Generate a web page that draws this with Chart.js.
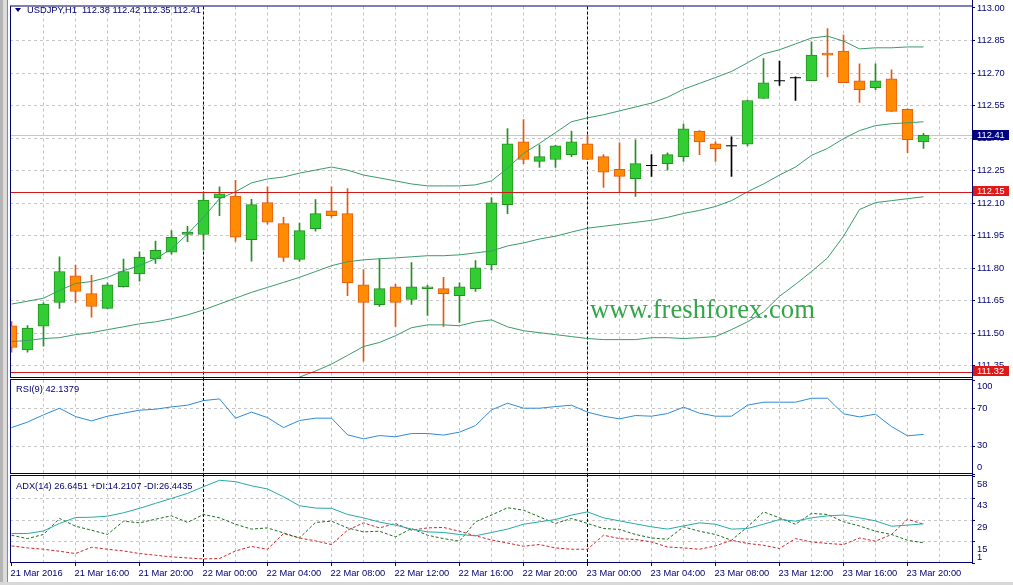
<!DOCTYPE html>
<html><head><meta charset="utf-8">
<script src="https://cdn.jsdelivr.net/npm/chart.js@4.4.1/dist/chart.umd.min.js"></script>
<style>
html,body{margin:0;padding:0;background:#fff;}
#wrap{position:relative;width:1013px;height:585px;overflow:hidden;background:#fff;}
canvas{position:absolute;left:0;top:0;}
.s1{position:absolute;left:0;top:0;width:3px;height:585px;background:#b4b4b4;}
.s2{position:absolute;left:3px;top:0;width:4px;height:585px;background:#dcdcdc;}
.s3{position:absolute;left:7px;top:0;width:1px;height:585px;background:#8a8a8a;}
.sb{position:absolute;left:0;top:582px;width:1013px;height:3px;background:#d8d8d8;}
</style></head><body><div id="wrap">
<div class="s1"></div><div class="s2"></div><div class="s3"></div><div class="sb"></div>
<canvas id="cMain" width="1013" height="585"></canvas>
<canvas id="cRsi" width="1013" height="585"></canvas>
<canvas id="cAdx" width="1013" height="585"></canvas>
</div>
<script>
// ---------------- DATA ----------------
const symbolTitle = 'USDJPY,H1';
const lastOHLC = ['112.38','112.42','112.35','112.41'];
const xTickBars   = [0,4,8,12,16,20,24,28,32,36,40,44,48,52,56];
const xTickLabels = ['21 Mar 2016','21 Mar 16:00','21 Mar 20:00','22 Mar 00:00','22 Mar 04:00','22 Mar 08:00','22 Mar 12:00','22 Mar 16:00','22 Mar 20:00','23 Mar 00:00','23 Mar 04:00','23 Mar 08:00','23 Mar 12:00','23 Mar 16:00','23 Mar 20:00'];
const daySeparatorBars = [12,36];

const open  = [111.532,111.421,111.530,111.640,111.762,111.680,111.612,111.712,111.771,111.840,111.871,111.953,111.953,112.121,112.130,111.929,112.100,112.003,111.838,111.980,112.062,112.049,111.721,111.629,111.712,111.653,111.703,111.703,111.671,111.703,111.812,112.090,112.380,112.290,112.299,112.321,112.371,112.312,112.253,112.210,112.271,112.280,112.312,112.430,112.371,112.362,112.370,112.580,112.662,112.676,112.662,112.790,112.799,112.662,112.630,112.671,112.530,112.380];
const high  = [111.551,111.533,111.638,111.850,111.812,111.764,111.730,111.840,111.873,111.923,111.971,111.991,112.150,112.173,112.203,112.115,112.173,112.032,112.006,112.114,112.173,112.165,111.791,111.840,111.723,111.823,111.718,111.755,111.730,111.832,112.123,112.441,112.483,112.367,112.364,112.430,112.412,112.321,112.376,112.390,112.321,112.330,112.462,112.432,112.380,112.403,112.573,112.764,112.753,112.680,112.842,112.903,112.873,112.740,112.740,112.712,112.532,112.420];
const low   = [111.410,111.410,111.438,111.612,111.640,111.571,111.610,111.710,111.738,111.820,111.862,111.920,111.880,112.040,111.921,111.830,112.001,111.829,111.829,111.968,112.032,111.671,111.368,111.621,111.529,111.630,111.579,111.529,111.547,111.690,111.790,112.049,112.280,112.262,112.262,112.312,112.299,112.170,112.150,112.129,112.221,112.250,112.290,112.321,112.290,112.221,112.362,112.580,112.640,112.571,112.662,112.680,112.653,112.562,112.621,112.521,112.330,112.350];
const close = [111.432,111.521,111.632,111.782,111.690,111.621,111.721,111.782,111.849,111.880,111.940,111.964,112.112,112.140,111.940,112.091,112.010,111.847,111.971,112.049,112.040,111.730,111.640,111.703,111.640,111.712,111.712,111.680,111.712,111.799,112.099,112.371,112.299,112.312,112.362,112.380,112.299,112.240,112.221,112.280,112.271,112.321,112.440,112.380,112.349,112.362,112.571,112.653,112.662,112.676,112.780,112.780,112.653,112.621,112.662,112.521,112.390,112.410];

const bbUpper  = [111.632,111.645,111.659,111.695,111.727,111.736,111.755,111.786,111.809,111.841,111.886,111.955,112.032,112.118,112.150,112.191,112.209,112.218,112.236,112.250,112.264,112.250,112.227,112.214,112.200,112.186,112.177,112.177,112.177,112.182,112.200,112.259,112.327,112.373,112.423,112.473,112.491,112.505,112.523,112.541,112.559,112.586,112.623,112.650,112.677,112.705,112.745,112.786,112.805,112.832,112.859,112.868,112.845,112.809,112.814,112.814,112.818,112.818];
const bbMiddle = [111.459,111.464,111.473,111.477,111.491,111.500,111.514,111.527,111.541,111.550,111.564,111.582,111.605,111.632,111.659,111.686,111.709,111.732,111.755,111.782,111.809,111.827,111.836,111.841,111.845,111.850,111.855,111.855,111.859,111.868,111.877,111.900,111.914,111.932,111.945,111.964,111.982,111.991,112.000,112.009,112.018,112.032,112.050,112.064,112.082,112.109,112.150,112.186,112.227,112.264,112.318,112.350,112.395,112.432,112.455,112.464,112.468,112.473];
const bbLower  = [111.286,111.282,111.286,111.259,111.255,111.264,111.273,111.268,111.273,111.259,111.241,111.209,111.177,111.145,111.168,111.182,111.209,111.259,111.295,111.323,111.355,111.395,111.436,111.455,111.486,111.523,111.536,111.536,111.532,111.550,111.559,111.527,111.509,111.500,111.491,111.482,111.473,111.468,111.468,111.468,111.477,111.477,111.473,111.477,111.482,111.514,111.550,111.595,111.668,111.723,111.782,111.845,111.945,112.068,112.100,112.109,112.118,112.127];

const priceTicks = [113.00,112.85,112.70,112.55,112.40,112.25,112.10,111.95,111.80,111.65,111.50,111.35];
const lastPrice = 112.41;
const levelLines = [112.15, 111.32];

const rsiTitle = 'RSI(9) 42.1379';
const rsi = [49.4,55.2,62.9,70.0,61.1,56.5,61.5,64.7,67.9,68.9,71.4,73.2,78.1,79.9,59.4,65.8,60.0,49.4,56.9,59.4,59.4,41.7,37.4,40.9,39.6,43.1,43.1,41.4,44.5,51.5,68.2,75.3,70.0,70.0,71.7,73.2,65.8,61.5,58.7,62.2,61.5,64.3,71.1,64.7,61.5,61.5,73.2,76.4,76.4,76.4,80.6,80.6,64.0,60.8,63.6,50.5,40.6,42.14];
const rsiTicks = [100,70,30,0];
const rsiLevels = [70,30];

const adxTitle = 'ADX(14) 26.6451 +DI:14.2107 -DI:26.4435';
const adx     = [20.3,20.3,22.0,26.9,30.8,31.0,31.7,33.9,36.8,40.1,43.3,46.6,51.0,55.2,54.3,51.6,49.5,44.4,38.5,37.0,36.8,32.8,30.6,27.8,25.8,23.2,21.4,21.0,19.7,18.8,21.0,23.2,26.4,28.0,29.5,32.4,34.5,30.6,28.6,26.6,24.7,23.2,25.3,27.3,26.4,23.2,23.6,26.4,29.5,28.4,30.6,31.9,32.4,30.6,28.6,25.1,25.8,26.65];
const plusDI  = [19.2,17.0,19.7,30.2,25.1,22.5,19.7,28.4,27.3,29.7,31.9,27.6,32.8,30.6,26.4,23.2,24.0,20.7,17.4,27.6,28.4,24.0,21.4,21.8,18.1,23.6,19.2,17.0,15.3,28.0,32.4,37.2,35.6,31.2,26.9,30.2,26.9,23.6,23.0,19.7,17.4,16.6,24.7,21.8,19.7,15.9,24.7,34.5,30.6,26.4,33.5,32.8,28.0,25.3,21.8,19.7,15.9,14.21];
const minusDI = [12.2,10.9,10.0,8.7,7.2,11.3,10.0,8.9,7.2,6.1,5.0,4.3,3.7,3.9,8.9,11.8,10.0,20.3,17.4,15.5,13.1,22.5,27.3,24.0,26.9,22.5,24.0,24.3,21.8,18.8,16.1,14.1,12.0,13.1,10.9,10.0,10.0,19.2,17.0,16.4,14.8,11.5,10.9,10.0,12.2,15.9,13.8,12.6,10.5,17.0,14.8,13.8,13.1,17.4,15.3,19.7,29.7,26.44];
const adxTicks = [58,43.75,29.5,15.25,1];
const adxTickLabels = ['58','43','29','15','1'];

// ---------------- STYLE ----------------
const FONT = "9.3px 'Liberation Sans', Arial, sans-serif";
const NAVY = '#000070';
const GRID = '#c6c6c6';
const BULL_FILL = '#32cd32', BULL_LINE = '#248f24';
const BEAR_FILL = '#ff8c00', BEAR_LINE = '#e05a14';
const DOJI = '#000000';
const XMIN = -0.09375, XMAX = 60.03125;
const PAD = {left:10, right:41};

// ---------------- HELPERS ----------------
function hline(ctx,x1,x2,y,color,dash){ctx.save();ctx.strokeStyle=color;ctx.lineWidth=1;ctx.setLineDash(dash);ctx.beginPath();ctx.moveTo(x1,y);ctx.lineTo(x2,y);ctx.stroke();ctx.restore();}
function vline(ctx,x,y1,y2,color,dash){ctx.save();ctx.strokeStyle=color;ctx.lineWidth=1;ctx.setLineDash(dash);ctx.beginPath();ctx.moveTo(x,y1);ctx.lineTo(x,y2);ctx.stroke();ctx.restore();}
function vgrid(ctx,a,x){
  for(let i=2;i<XMAX;i+=2){const px=Math.round(x.getPixelForValue(i)-0.5)+0.5; if(px>=a.right-1) continue; vline(ctx,px,a.top,a.bottom,GRID,[3,3]);}
}
function separators(ctx,a,x,y1,y2){
  daySeparatorBars.forEach(i=>{const px=Math.round(x.getPixelForValue(i)-0.5)+0.5; vline(ctx,px,y1,y2,'#000033',[3,2]);});
}
function frame(ctx,a){ctx.save();ctx.strokeStyle=NAVY;ctx.lineWidth=1;ctx.strokeRect(a.left+0.5,a.top-0.5,a.right-a.left-1,a.bottom-a.top);ctx.restore();}
function rightText(ctx,txt,yc,color){ctx.save();ctx.font=FONT;ctx.fillStyle=color||NAVY;ctx.textBaseline='middle';ctx.textAlign='left';ctx.fillText(txt,977,yc);ctx.restore();}
function rightTick(ctx,a,y){ctx.save();ctx.strokeStyle=NAVY;ctx.beginPath();ctx.moveTo(a.right,Math.round(y)+0.5);ctx.lineTo(a.right+3,Math.round(y)+0.5);ctx.stroke();ctx.restore();}
function box(ctx,yc,bg,txt){ctx.save();ctx.fillStyle=bg;ctx.fillRect(973,Math.round(yc)-5,36,10);ctx.font=FONT;ctx.fillStyle='#ffffff';ctx.textBaseline='middle';ctx.fillText(txt,977,Math.round(yc)+0.5);ctx.restore();}
function panelTitle(ctx,txt,x,y){ctx.save();ctx.font=FONT;ctx.fillStyle=NAVY;ctx.textBaseline='middle';ctx.fillText(txt,x,y);ctx.restore();}

const baseOpts = (padTop,padBottom,ymin,ymax)=>({
  responsive:false, animation:false, events:[],
  layout:{padding:{left:PAD.left,right:PAD.right,top:padTop,bottom:padBottom}},
  plugins:{legend:{display:false},tooltip:{enabled:false}},
  scales:{
    x:{type:'linear',display:false,min:XMIN,max:XMAX,offset:false},
    y:{type:'linear',display:false,min:ymin,max:ymax}
  }
});

// ---------------- MAIN CHART ----------------
const idx = open.map((_,i)=>i);
const isDoji = i => open[i]===close[i];
const bodyIdx = idx.filter(i=>!isDoji(i));
const dojiIdx = idx.filter(i=>isDoji(i));
const candleLine = i => isDoji(i)?DOJI:(close[i]>open[i]?BULL_LINE:BEAR_LINE);

const mainDeco = {
  id:'mainDeco',
  beforeDatasetsDraw(chart){
    const {ctx,chartArea:a,scales:{x,y}} = chart;
    vgrid(ctx,a,x);
    priceTicks.forEach(p=>{const py=Math.round(y.getPixelForValue(p))+0.5; if(py>a.top+1&&py<a.bottom-1) hline(ctx,a.left,a.right,py,GRID,[3,3]);});
    hline(ctx,a.left,a.right,Math.round(y.getPixelForValue(lastPrice))+0.5,'#c8c8c8',[]);
    separators(ctx,a,x,a.top,a.bottom);
  },
  afterDatasetsDraw(chart){
    const {ctx,chartArea:a,scales:{x,y}} = chart;
    levelLines.forEach(p=>hline(ctx,a.left,a.right,Math.round(y.getPixelForValue(p))+0.5,'#d01818',[]));
    ctx.save();
    let fs=26; ctx.font=fs+"px 'Liberation Serif', 'Times New Roman', serif";
    const w=ctx.measureText('www.freshforex.com').width; fs=fs*225/w;
    ctx.font=fs.toFixed(2)+"px 'Liberation Serif', 'Times New Roman', serif";
    ctx.fillStyle='#35a54a'; ctx.textBaseline='alphabetic';
    ctx.fillText('www.freshforex.com',590,318);
    ctx.restore();
  },
  afterDraw(chart){
    const {ctx,chartArea:a,scales:{y}} = chart;
    frame(ctx,{left:a.left,right:a.right+1,top:a.top,bottom:a.bottom});
    vline(ctx,a.right+0.5,0,563,NAVY,[]);
    priceTicks.forEach(p=>{const py=y.getPixelForValue(p); rightTick(ctx,a,py); rightText(ctx,p.toFixed(2),py+0.5);});
    box(ctx,y.getPixelForValue(lastPrice)-0.5,'#000080',lastPrice.toFixed(2));
    levelLines.forEach(p=>box(ctx,y.getPixelForValue(p)-0.5,'#e01818',p.toFixed(2)));
    ctx.save(); ctx.fillStyle=NAVY; ctx.beginPath(); ctx.moveTo(15,8); ctx.lineTo(21,8); ctx.lineTo(18,12); ctx.closePath(); ctx.fill(); ctx.restore();
    panelTitle(ctx,symbolTitle+'  '+lastOHLC.join(' '),27,10);
  }
};

new Chart(document.getElementById('cMain'),{
  type:'bar',
  data:{datasets:[
    {type:'line',label:'BB upper',data:idx.map(i=>({x:i,y:bbUpper[i]})),borderColor:'#3a9a6a',borderWidth:1,pointRadius:0,tension:0,order:0},
    {type:'line',label:'BB middle',data:idx.map(i=>({x:i,y:bbMiddle[i]})),borderColor:'#3a9a6a',borderWidth:1,pointRadius:0,tension:0,order:0},
    {type:'line',label:'BB lower',data:idx.map(i=>({x:i,y:bbLower[i]})),borderColor:'#3a9a6a',borderWidth:1,pointRadius:0,tension:0,order:0},
    {type:'scatter',label:'doji',data:dojiIdx.map(i=>({x:i,y:open[i]})),pointStyle:'line',pointRadius:5.5,borderColor:DOJI,borderWidth:1,backgroundColor:DOJI,order:1},
    {type:'bar',label:'body',grouped:false,barThickness:11,borderWidth:1,borderSkipped:false,
      data:bodyIdx.map(i=>({x:i,y:[open[i],close[i]]})),
      backgroundColor:bodyIdx.map(i=>close[i]>open[i]?BULL_FILL:BEAR_FILL),
      borderColor:bodyIdx.map(i=>close[i]>open[i]?BULL_LINE:BEAR_LINE),order:2},
    {type:'bar',label:'wick',grouped:false,barThickness:1,borderWidth:0,
      data:idx.map(i=>({x:i,y:[low[i],high[i]]})),
      backgroundColor:idx.map(candleLine),order:3}
  ]},
  options:baseOpts(2,207,113-376/220,113+1/220),
  plugins:[mainDeco]
});

// ---------------- RSI CHART ----------------
const rsiDeco = {
  id:'rsiDeco',
  beforeDatasetsDraw(chart){
    const {ctx,chartArea:a,scales:{x,y}} = chart;
    vgrid(ctx,a,x);
    rsiLevels.forEach(v=>hline(ctx,a.left,a.right,Math.round(y.getPixelForValue(v))+0.5,GRID,[3,3]));
    separators(ctx,a,x,a.top-2,a.bottom+2);
  },
  afterDraw(chart){
    const {ctx,chartArea:a,scales:{y}} = chart;
    frame(ctx,{left:a.left,right:a.right+1,top:a.top,bottom:a.bottom});
    rsiTicks.forEach(v=>{const py=y.getPixelForValue(v); const yc=Math.min(Math.max(py,a.top+6.5),a.bottom-6.3); rightTick(ctx,a,py); rightText(ctx,String(v),yc);});
    panelTitle(ctx,rsiTitle,16,389);
  }
};
new Chart(document.getElementById('cRsi'),{
  type:'line',
  data:{datasets:[{label:'RSI',data:idx.map(i=>({x:i,y:rsi[i]})),borderColor:'#2f8ad8',borderWidth:1,pointRadius:0,tension:0}]},
  options:baseOpts(380,111,0,100),
  plugins:[rsiDeco]
});

// ---------------- ADX CHART ----------------
const adxDeco = {
  id:'adxDeco',
  beforeDatasetsDraw(chart){
    const {ctx,chartArea:a,scales:{x,y}} = chart;
    vgrid(ctx,a,x);
    adxTicks.forEach(v=>{const py=Math.round(y.getPixelForValue(v))+0.5; if(py>a.top+1&&py<a.bottom-1) hline(ctx,a.left,a.right,py,GRID,[3,3]);});
    separators(ctx,a,x,a.top-2,a.bottom);
  },
  afterDraw(chart){
    const {ctx,chartArea:a,scales:{x,y}} = chart;
    frame(ctx,{left:a.left,right:a.right+1,top:a.top,bottom:a.bottom});
    adxTicks.forEach((v,k)=>{const py=y.getPixelForValue(v); const yc=Math.min(py+8,a.bottom-6); rightTick(ctx,a,py); rightText(ctx,adxTickLabels[k],yc);});
    panelTitle(ctx,adxTitle,16,486);
    ctx.save(); ctx.font=FONT; ctx.fillStyle=NAVY; ctx.textBaseline='middle'; ctx.strokeStyle=NAVY;
    xTickBars.forEach((b,k)=>{const px=Math.round(x.getPixelForValue(b)-0.5)+0.5;
      ctx.beginPath(); ctx.moveTo(px,a.bottom); ctx.lineTo(px,a.bottom+3); ctx.stroke();
      ctx.fillText(xTickLabels[k],px-1,573);});
    ctx.restore();
  }
};
new Chart(document.getElementById('cAdx'),{
  type:'line',
  data:{datasets:[
    {label:'ADX',data:idx.map(i=>({x:i,y:adx[i]})),borderColor:'#26aaa6',borderWidth:1,pointRadius:0,tension:0},
    {label:'+DI',data:idx.map(i=>({x:i,y:plusDI[i]})),borderColor:'#1d6e1d',borderWidth:1,borderDash:[3,2],pointRadius:0,tension:0},
    {label:'-DI',data:idx.map(i=>({x:i,y:minusDI[i]})),borderColor:'#c82828',borderWidth:1,borderDash:[3,2],pointRadius:0,tension:0}
  ]},
  options:baseOpts(476,22,1,58),
  plugins:[adxDeco]
});
</script>
</body></html>
